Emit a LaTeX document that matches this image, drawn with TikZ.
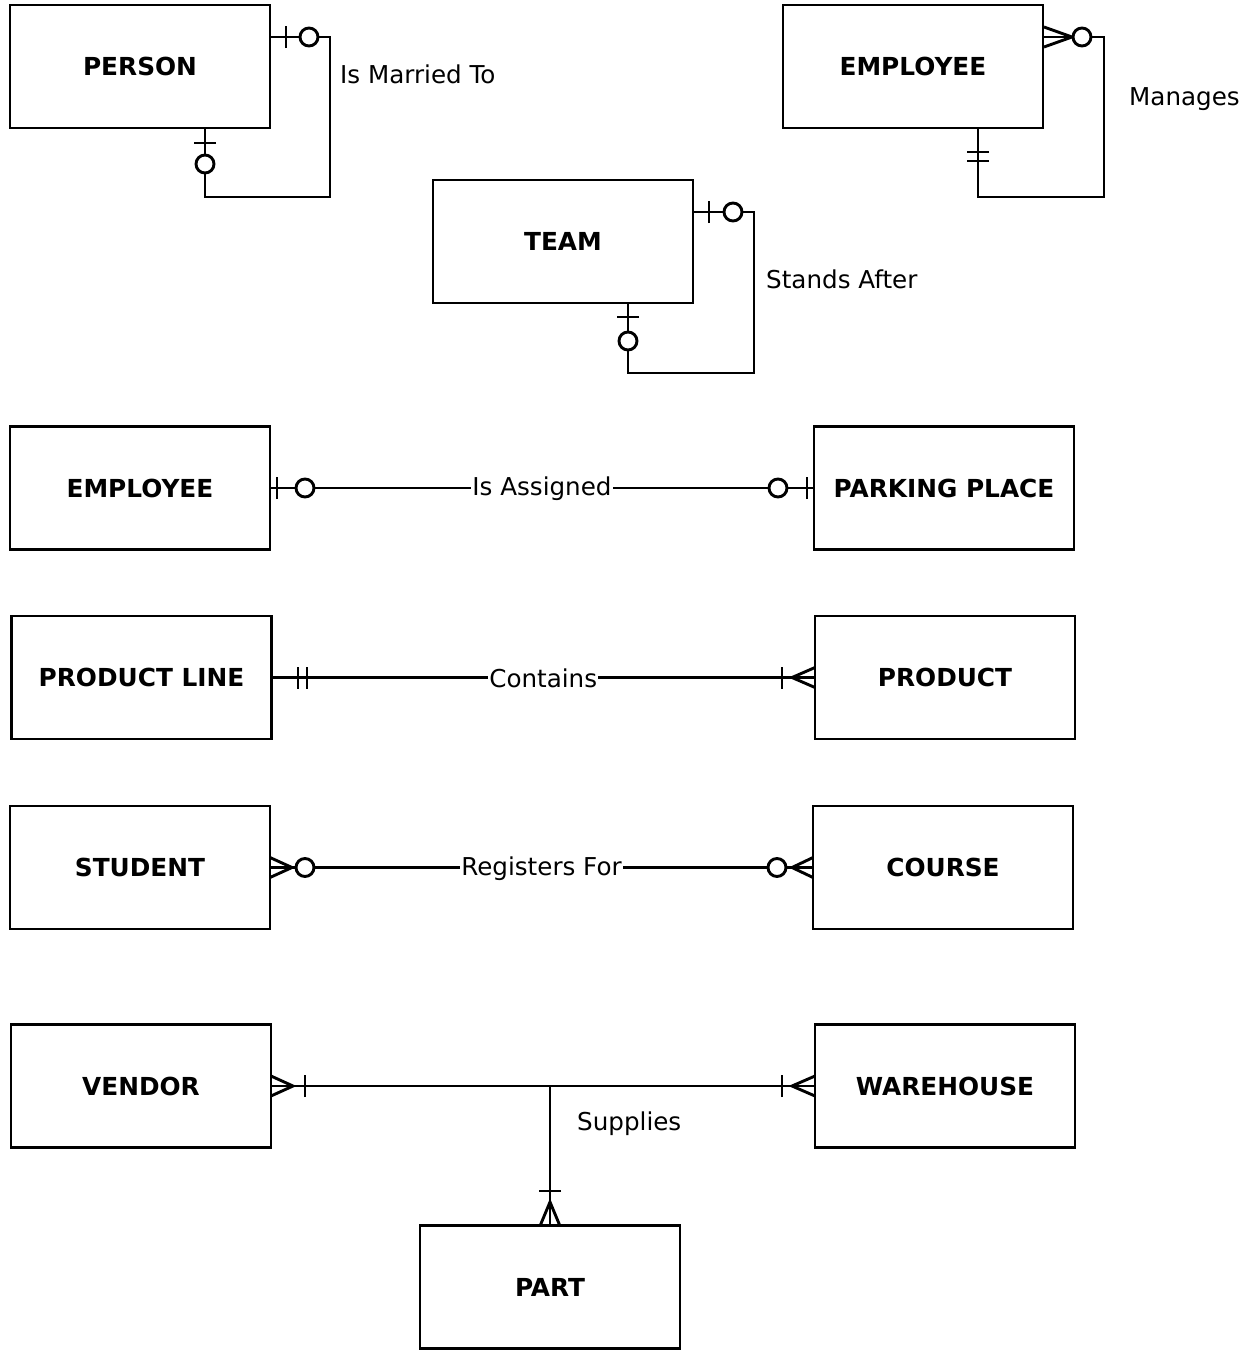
\documentclass[tikz,border=0pt]{standalone}
\usepackage{fontspec}
\setmainfont{DejaVu Sans}
\begin{document}
\begin{tikzpicture}[x=1pt,y=1pt,
  entity/.style={draw,line width=2.9pt,minimum width=260pt,minimum height=123pt,inner sep=0pt,
    font=\fontsize{24.8}{29}\selectfont\bfseries},
  conn/.style={line width=2.9pt},
  lbl/.style={font=\fontsize{24.6}{29}\selectfont,inner sep=1pt},
  midlbl/.style={lbl,fill=white},
  pics/bar/.style={code={\draw[line width=2.9pt] (0,-11) -- (0,11);}},
  pics/ring/.style={code={\draw[line width=2.9pt,fill=white] (0,0) circle (9);}},
  pics/crow/.style={code={\draw[line width=2.9pt,line join=miter] (#1,-10) -- (0,0) -- (#1,10);}},
]
\useasboundingbox (0,0) rectangle (1250,-1350);

% entities
\node[entity] (person) at (140,-66.5) {PERSON};
\node[entity] (emp1) at (913,-66.5) {EMPLOYEE};
\node[entity] (team) at (563,-241.5) {TEAM};
\node[entity] (emp2) at (140,-488) {EMPLOYEE};
\node[entity] (park) at (944,-488) {PARKING PLACE};
\node[entity] (pline) at (141.5,-677.5) {PRODUCT LINE};
\node[entity] (product) at (945,-677.5) {PRODUCT};
\node[entity] (student) at (140,-867.5) {STUDENT};
\node[entity] (course) at (943,-867.5) {COURSE};
\node[entity] (vendor) at (141,-1086) {VENDOR};
\node[entity] (warehouse) at (945,-1086) {WAREHOUSE};
\node[entity] (part) at (550,-1287) {PART};

% PERSON self relation
\draw[conn] (person.east |- 0,-37) -- (330,-37) |- (205,-197) -- (205,0 |- person.south);
\pic at (286,-37) {bar};
\pic at (309,-37) {ring};
\pic[rotate=90] at (205,-143) {bar};
\pic at (205,-164) {ring};
\node[lbl,anchor=west] (lmarried) at (339,-74) {Is Married To};

% EMPLOYEE manages
\draw[conn] (emp1.east |- 0,-37) -- (1104,-37) |- (978,-197) -- (978,0 |- emp1.south);
\pic[rotate=180] at (1072,-37) {crow=28};
\pic at (1082,-37) {ring};
\pic[rotate=90] at (978,-152) {bar};
\pic[rotate=90] at (978,-161) {bar};
\node[lbl,anchor=west] (lmanages) at (1128,-99) {Manages};

% TEAM stands after
\draw[conn] (team.east |- 0,-212) -- (754,-212) |- (628,-373) -- (628,0 |- team.south);
\pic at (709,-212) {bar};
\pic at (733,-212) {ring};
\pic[rotate=90] at (628,-317) {bar};
\pic at (628,-341) {ring};
\node[lbl,anchor=west] (lstands) at (765,-279) {Stands After};

% EMPLOYEE - PARKING PLACE
\draw[conn] (emp2.east) -- node[midlbl,yshift=-1pt] (lassigned) {Is Assigned} (park.west);
\pic at (277,-488) {bar};
\pic at (305,-488) {ring};
\pic at (778,-488) {ring};
\pic at (807,-488) {bar};

% PRODUCT LINE - PRODUCT
\draw[conn] (pline.east) -- node[midlbl,yshift=-1pt] (lcontains) {Contains} (product.west);
\pic at (298,-677.5) {bar};
\pic at (307,-677.5) {bar};
\pic at (782,-677.5) {bar};
\pic at (792,-677.5) {crow=23};

% STUDENT - COURSE
\draw[conn] (student.east) -- node[midlbl,yshift=-1pt] (lregisters) {Registers For} (course.west);
\pic[rotate=180] at (292,-867.5) {crow=22};
\pic at (305,-867.5) {ring};
\pic at (777,-867.5) {ring};
\pic at (792,-867.5) {crow=21};

% VENDOR - WAREHOUSE - PART
\draw[conn] (vendor.east) -- (warehouse.west);
\coordinate (junction) at (part.north |- vendor.east);
\draw[conn] (junction) -- (part.north);
\pic[rotate=180] at (293,-1086) {crow=22};
\pic at (305,-1086) {bar};
\pic at (782,-1086) {bar};
\pic at (792,-1086) {crow=23};
\pic[rotate=90] at (550,-1191) {bar};
\pic[rotate=-90] at (550,-1202) {crow=24};
\node[lbl,anchor=west] (lsupplies) at (576,-1124) {Supplies};
\end{tikzpicture}
\end{document}
